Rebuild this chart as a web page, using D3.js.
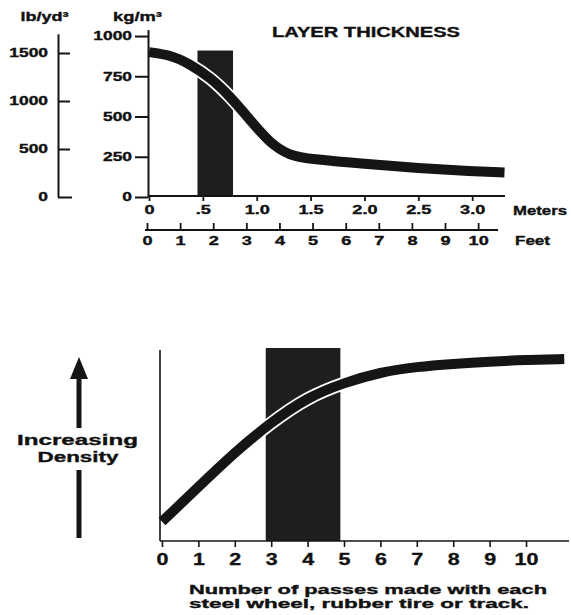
<!DOCTYPE html>
<html>
<head>
<meta charset="utf-8">
<script src="https://cdn.jsdelivr.net/npm/d3@7"></script>
<style>
  body { margin: 0; background: #fff; }
  text { font-family: "Liberation Sans", Arial, sans-serif; font-weight: bold; fill: #111; stroke: #111; stroke-width: 0.35px; }
</style>
</head>
<body>
<svg width="571" height="615"></svg>
<script>
const svg = d3.select("svg");
const ink = "#151515";

// top chart: density vs layer thickness
const meters = [0, 0.2, 0.38, 0.57, 0.75, 0.94, 1.12, 1.31, 1.5, 2.0, 2.5, 3.0, 3.3];
const kgPerM3 = [900, 882, 826, 742, 627, 478, 335, 255, 236, 205, 180, 160, 152];
const layerBand = [0.45, 0.78];   // meters
const layerBandTop = 910;        // kg/m3
const kgTicks = [0, 250, 500, 750, 1000];
const lbTicks = [0, 500, 1000, 1500];
const meterTicks = [0, 0.5, 1.0, 1.5, 2.0, 2.5, 3.0];
const feetTicks = [0, 1, 2, 3, 4, 5, 6, 7, 8, 9, 10];

// bottom chart: density vs number of passes
const passes = [0, 1, 2, 3, 4, 5, 6, 7, 8, 9, 10, 11.05];
const density = [10, 28, 46, 61.5, 74.5, 82, 87.5, 90.3, 91.8, 93, 93.8, 94.3];
const passBand = [2.85, 4.9];
const passBandTop = 100;
const passTicks = [0, 1, 2, 3, 4, 5, 6, 7, 8, 9, 10];

// stretch text horizontally, the original face is an extended heavy grotesque
function widen(sel, k) {
  sel.each(function() {
    const w = this.getComputedTextLength();
    d3.select(this).attr("textLength", w * k).attr("lengthAdjust", "spacingAndGlyphs");
  });
}
function fit(sel, w) {
  sel.attr("textLength", w).attr("lengthAdjust", "spacingAndGlyphs");
}

// ---------- top ----------
const xm = d3.scaleLinear().domain([0, 3.3]).range([149, 504.5]);
const xf = d3.scaleLinear().domain([0, 10.6]).range([147, 498]);
const yKg = d3.scaleLinear().domain([0, 1040]).range([197, 29.6]);
const yLb = d3.scaleLinear().domain([0, 1700]).range([197, 33.8]);

svg.append("rect")
    .attr("x", xm(layerBand[0]))
    .attr("y", yKg(layerBandTop))
    .attr("width", xm(layerBand[1]) - xm(layerBand[0]))
    .attr("height", yKg(0) - yKg(layerBandTop))
    .attr("fill", "#1e1e1e");

const topLine = d3.line()
    .x((d, i) => xm(meters[i]))
    .y(d => yKg(d))
    .curve(d3.curveBasis);

svg.append("path").attr("d", topLine(kgPerM3))
    .attr("fill", "none").attr("stroke", "#fff").attr("stroke-width", 13.5);
svg.append("path").attr("d", topLine(kgPerM3))
    .attr("fill", "none").attr("stroke", ink).attr("stroke-width", 10);

function styleAxis(g, sw, fs) {
  g.select(".domain").attr("stroke", ink).attr("stroke-width", sw);
  g.selectAll(".tick line").attr("stroke", ink).attr("stroke-width", sw);
  g.selectAll(".tick text").attr("font-size", fs).attr("fill", "#111");
}

const gLb = svg.append("g").attr("transform", "translate(58,0)")
    .call(d3.axisRight(yLb).tickValues(lbTicks).tickFormat(d3.format("d"))
      .tickSize(12).tickSizeOuter(0).tickPadding(0));
styleAxis(gLb, 2, 12);
gLb.selectAll(".tick text").attr("text-anchor", "end").attr("x", -10);
gLb.selectAll(".tick").filter(d => d === 0).select("line").attr("x2", 14);
widen(gLb.selectAll(".tick text"), 1.45);

const gKg = svg.append("g").attr("transform", "translate(148,0)")
    .call(d3.axisLeft(yKg).tickValues(kgTicks).tickFormat(d3.format("d"))
      .tickSize(13).tickSizeOuter(0).tickPadding(3));
styleAxis(gKg, 2, 12);
widen(gKg.selectAll(".tick text"), 1.45);

const gM = svg.append("g").attr("transform", "translate(0,196)")
    .call(d3.axisBottom(xm).tickValues(meterTicks).tickSize(5).tickSizeOuter(0).tickPadding(4)
      .tickFormat(d => d === 0 ? "0" : d === 0.5 ? ".5" : d.toFixed(1)));
styleAxis(gM, 1.8, 12.5);
gM.select(".domain").attr("d", "M148,0H505");
widen(gM.selectAll(".tick text"), 1.45);

const gF = svg.append("g").attr("transform", "translate(0,230)")
    .call(d3.axisTop(xf).tickValues(feetTicks).tickSize(7).tickSizeOuter(0));
styleAxis(gF, 1.8, 12.5);
gF.select(".domain").attr("d", "M145,0H498");
gF.selectAll(".tick text").attr("y", 15).attr("dy", 0);
widen(gF.selectAll(".tick text"), 1.45);

svg.append("text").attr("x", 44.5).attr("y", 21).attr("text-anchor", "middle")
    .attr("font-size", 12).text("lb/yd³").call(fit, 48);
svg.append("text").attr("x", 137.5).attr("y", 21).attr("text-anchor", "middle")
    .attr("font-size", 12).text("kg/m³").call(fit, 49);
svg.append("text").attr("x", 272).attr("y", 37)
    .attr("font-size", 14).text("LAYER THICKNESS").call(fit, 188);
svg.append("text").attr("x", 513).attr("y", 215)
    .attr("font-size", 12.5).text("Meters").call(fit, 54);
svg.append("text").attr("x", 515).attr("y", 245)
    .attr("font-size", 12.5).text("Feet").call(fit, 35);

// ---------- bottom ----------
const xp = d3.scaleLinear().domain([0, 11.2]).range([162, 569.7]);
const yD = d3.scaleLinear().domain([0, 100]).range([541, 348]);

svg.append("rect")
    .attr("x", xp(passBand[0]))
    .attr("y", yD(passBandTop))
    .attr("width", xp(passBand[1]) - xp(passBand[0]))
    .attr("height", yD(0) - yD(passBandTop))
    .attr("fill", "#1e1e1e");

const botLine = d3.line()
    .x((d, i) => xp(passes[i]))
    .y(d => yD(d))
    .curve(d3.curveBasis);

svg.append("path").attr("d", botLine(density))
    .attr("fill", "none").attr("stroke", "#fff").attr("stroke-width", 13.5);
svg.append("path").attr("d", botLine(density))
    .attr("fill", "none").attr("stroke", ink).attr("stroke-width", 10);

const gP = svg.append("g").attr("transform", "translate(0,541)")
    .call(d3.axisBottom(xp).tickValues(passTicks).tickSize(6).tickSizeOuter(0).tickPadding(6));
styleAxis(gP, 1.6, 16.5);
gP.select(".domain").attr("d", "M160,0H569");
widen(gP.selectAll(".tick text"), 1.3);

const gD = svg.append("g").attr("transform", "translate(160,0)")
    .call(d3.axisLeft(yD).tickValues([]).tickSizeOuter(0));
gD.select(".domain").attr("stroke", ink).attr("stroke-width", 1.6).attr("d", "M0,541V350");

// "increasing density" arrow
svg.append("line").attr("x1", 79).attr("x2", 79).attr("y1", 376).attr("y2", 428)
    .attr("stroke", ink).attr("stroke-width", 5);
svg.append("path").attr("d", "M79,357L88,379L70,379Z").attr("fill", ink);
svg.append("line").attr("x1", 79).attr("x2", 79).attr("y1", 470).attr("y2", 538)
    .attr("stroke", ink).attr("stroke-width", 5);

svg.append("text").attr("x", 77.5).attr("y", 444.5).attr("text-anchor", "middle")
    .attr("font-size", 15).text("Increasing").call(fit, 121);
svg.append("text").attr("x", 78).attr("y", 461.5).attr("text-anchor", "middle")
    .attr("font-size", 15).text("Density").call(fit, 81);

svg.append("text").attr("x", 189).attr("y", 594)
    .attr("font-size", 12.5).text("Number of passes made with each").call(fit, 358);
svg.append("text").attr("x", 189).attr("y", 608)
    .attr("font-size", 12.5).text("steel wheel, rubber tire or track.").call(fit, 340);
</script>
</body>
</html>
